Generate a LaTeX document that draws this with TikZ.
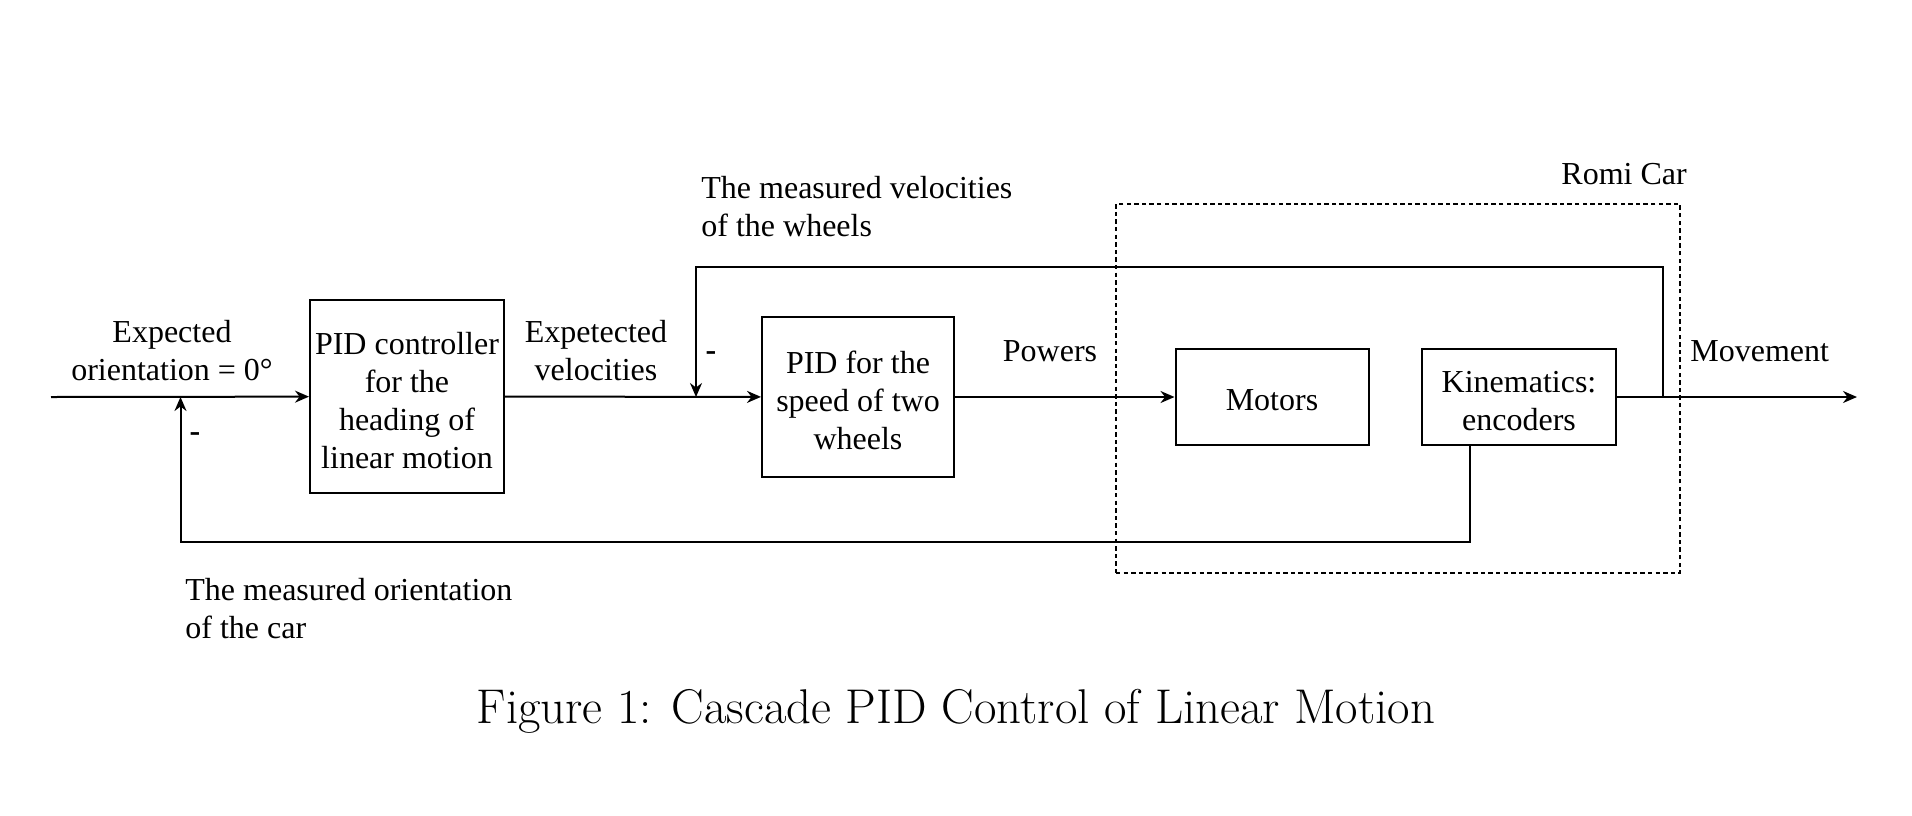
\documentclass[tikz,border=0pt]{standalone}
\usepackage{fontspec}
\newfontfamily\tnr{Liberation Serif}
\usetikzlibrary{arrows.meta,calc}
\begin{document}
\begin{tikzpicture}[x=0.5pt,y=-0.5pt,
  txt/.style={font=\tnr\fontsize{16}{19}\selectfont},
  block/.style={draw, line width=1pt, inner sep=0pt},
  btext/.style={txt, align=center, inner sep=0pt, yshift=-1.8pt},
  lab/.style={txt, inner sep=0pt},
  minus/.style={font=\tnr\bfseries\fontsize{16}{19}\selectfont, inner sep=0pt},
  conn/.style={line width=1pt, -{Stealth[length=7pt,width=6pt]}},
  car/.style={draw, line width=0.6pt, dash pattern=on 2.2pt off 1.6pt, inner sep=0pt}]
\useasboundingbox (0,0) rectangle (1912,815);
% blocks
\node[block, minimum width=97pt, minimum height=96.5pt] (b1) at (407,396.5) {};
\node[btext] (b1t) at (b1.center) {PID controller\\for the\\heading of\\linear motion};
\node[block, minimum width=96pt, minimum height=80pt] (b2) at (858,397) {};
\node[btext] (b2t) at (b2.center) {PID for the\\speed of two\\wheels};
\node[block, minimum width=96.5pt, minimum height=48pt] (mot) at (1272,397) {};
\node[btext] (mott) at (mot.center) {Motors};
\node[block, minimum width=97pt, minimum height=48pt] (kin) at (1519,397) {};
\node[btext] (kint) at (kin.center) {Kinematics:\\encoders};
\node[car, minimum width=282pt, minimum height=184.5pt] (carbox) at (1398,388.5) {};
% coordinates
\coordinate (in) at (51,397);
\coordinate (out) at (1857,397);
\coordinate (fbR) at (1663,397);
\coordinate (topR) at (1663,267);
\coordinate (sum2) at (696,397);
\coordinate (sum1) at (180.5,397);
\coordinate (botL) at (180.5,541.5);
\coordinate (kinb) at ($(kin.south west)!0.25!(kin.south east)$);
% connectors
\draw[conn] (in) -- (b1);
\draw[conn] (b1) -- (b2);
\draw[conn] (b2) -- (mot);
\draw[conn] (kin) -- (out);
\draw[conn] (fbR) -- (topR) -| (sum2);
\draw[conn] (kinb) |- (botL) -- (sum1);
% labels
\node[lab, align=center] (lexp) at (172,351) {Expected\\orientation = 0°};
\node[lab, align=center] (lvel) at (596,351) {Expetected\\velocities};
\node[lab, align=left, anchor=west] (lmv) at (701,207) {The measured velocities\\of the wheels};
\node[lab, align=left, anchor=west] (lmo) at (185,609) {The measured orientation\\of the car};
\node[lab, anchor=base] (lpow) at (1050,361) {Powers};
\node[lab, anchor=base west] (lmove) at (1690,361) {Movement};
\node[lab, anchor=base west] (lromi) at (1561,184) {Romi Car};
\node[minus] (m1) at (195,437) {-};
\node[minus] (m2) at (711,356) {-};
\node[anchor=base, inner sep=0pt, font=\fontsize{24.4}{29}\selectfont] (cap) at (956,723) {Figure 1: Cascade PID Control of Linear Motion};
\end{tikzpicture}
\end{document}
